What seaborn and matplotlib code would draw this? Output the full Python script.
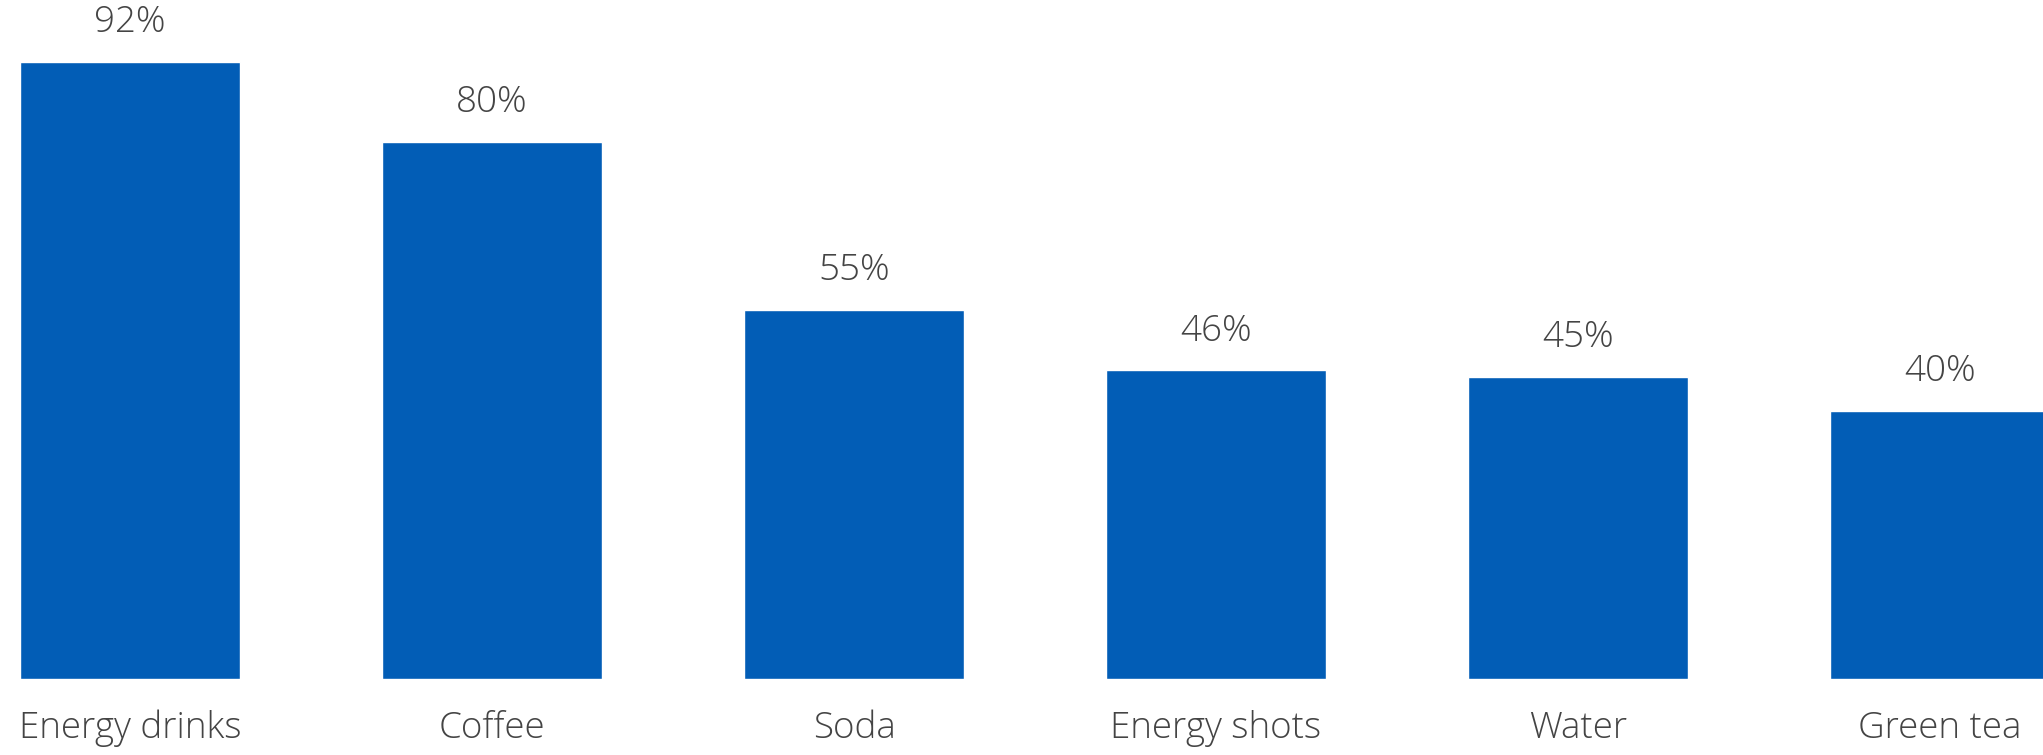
import matplotlib
matplotlib.use("Agg")
import matplotlib.pyplot as plt
import seaborn as sns
import pandas as pd

# Share of respondents by beverage
categories = ["Energy drinks", "Coffee", "Soda", "Energy shots", "Water", "Green tea"]
values = [92, 80, 55, 46, 45, 40]

df = pd.DataFrame({"drink": categories, "share": values})

sns.set_theme(style="white")
plt.rcParams["font.family"] = ["Open Sans", "DejaVu Sans"]
plt.rcParams["font.weight"] = 300

fig = plt.figure(figsize=(20.43, 7.55), dpi=100)
ax = fig.add_axes([0, 76 / 755, 1, 679 / 755])

sns.barplot(data=df, x="drink", y="share", color="#025DB6", saturation=1,
            width=220 / 362, ax=ax)

ax.set_ylim(0, 679 / 6.71)
ax.set_xlim(-130 / 362, (2043 - 130) / 362)

text_color = "#444444"
for container in ax.containers:
    ax.bar_label(container, labels=[f"{v}%" for v in values], padding=15,
                 fontsize=26.5, color=text_color, fontweight=300)

ax.set_xlabel("")
ax.set_ylabel("")
ax.set_yticks([])
ax.tick_params(axis="x", length=0, pad=22, labelsize=26.5, labelcolor=text_color)
for lbl in ax.get_xticklabels():
    lbl.set_fontweight(300)
sns.despine(ax=ax, left=True, bottom=True, top=True, right=True)

fig.savefig("out.png", dpi=100)
